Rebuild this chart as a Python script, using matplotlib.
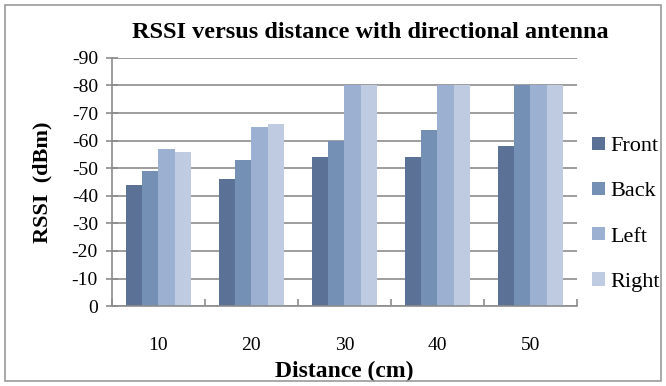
import numpy as np
import matplotlib.pyplot as plt
from matplotlib.patches import Rectangle

plt.rcParams['font.family'] = ['Liberation Serif', 'DejaVu Serif']
plt.rcParams['axes.unicode_minus'] = False

distances = ['10', '20', '30', '40', '50']
series = ['Front', 'Back', 'Left', 'Right']
front = [-44, -46, -54, -54, -58]
back = [-49, -53, -60, -64, -80]
left = [-57, -65, -80, -80, -80]
right = [-56, -66, -80, -80, -80]
colors = ['#5b7196', '#7490b5', '#9cb0d1', '#bfcbe0']

fig = plt.figure(figsize=(6.66, 3.86), dpi=100)
ax = fig.add_axes([0.168, 0.207, 0.698, 0.643])

x = np.arange(len(distances))
w = 0.175
for i, (name, vals) in enumerate(zip(series, [front, back, left, right])):
    ax.bar(x + (i - 1.5) * w, vals, w, color=colors[i], label=name, zorder=2)

ax.set_xlim(-0.5, len(distances) - 0.5)
ax.set_ylim(0, -90)
ax.set_yticks(np.arange(0, -91, -10))
ax.yaxis.grid(True, color='#8c8c8c', linewidth=1.2, zorder=0)
ax.set_axisbelow(True)

ax.set_xticks(x)
ax.set_xticklabels(distances, fontsize=14)
ax.set_xticks(np.arange(-0.5, len(distances), 1), minor=True)
ax.tick_params(axis='x', which='major', length=0, pad=22)
ax.tick_params(axis='x', which='minor', direction='in', length=5, color='#8c8c8c', width=1.2)
ax.tick_params(axis='y', direction='inout', length=8, color='#8c8c8c', width=1.2, labelsize=14, pad=6)

for s in ['top', 'right']:
    ax.spines[s].set_visible(False)
for s in ['left', 'bottom']:
    ax.spines[s].set_color('#8c8c8c')
    ax.spines[s].set_linewidth(1.2)

ax.set_xlabel('Distance (cm)', fontsize=17, fontweight='bold', labelpad=5)
ax.set_ylabel('RSSI  (dBm)', fontsize=16, fontweight='bold', labelpad=14)
fig.text(0.556, 0.915, 'RSSI versus distance with directional antenna',
         fontsize=17.5, fontweight='bold', ha='center', va='center')

ax.legend(loc='center left', bbox_to_anchor=(1.0, 0.37), frameon=False,
          fontsize=16, labelspacing=1.15, handlelength=0.55, handleheight=0.55,
          handletextpad=0.25, borderaxespad=0.3)

fig.patches.append(Rectangle((0.008, 0.013), 0.984, 0.975, transform=fig.transFigure,
                             fill=False, edgecolor='#9a9a9a', linewidth=1.2))

fig.savefig('out.png', dpi=100)
